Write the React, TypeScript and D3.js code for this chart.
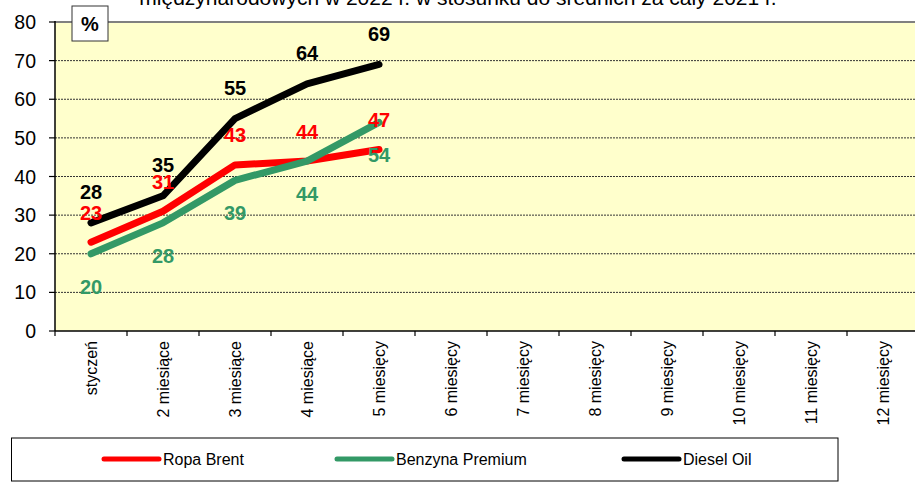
import React from "react";
import * as d3 from "d3";

const categories = ["styczeń", "2 miesiące", "3 miesiące", "4 miesiące", "5 miesięcy", "6 miesięcy", "7 miesięcy", "8 miesięcy", "9 miesięcy", "10 miesięcy", "11 miesięcy", "12 miesięcy"];
const brent = [23, 31, 43, 44, 47];
const benzyna = [20, 28, 39, 44, 54];
const diesel = [28, 35, 55, 64, 69];
const yTicks = [0, 10, 20, 30, 40, 50, 60, 70, 80];
const titleText = "międzynarodowych w 2022 r. w stosunku do średnich za cały 2021 r.";

const series = [
  { name: "Ropa Brent", values: brent, color: "#FF0000", labelDy: -29.5 },
  { name: "Benzyna Premium", values: benzyna, color: "#339966", labelDy: 33 },
  { name: "Diesel Oil", values: diesel, color: "#000000", labelDy: -30.5 },
];

export default function App() {
  const W = 915, H = 493;
  const left = 55, right = 919, top = 22, bottom = 331;
  const x = d3.scaleBand<string>().domain(categories).range([left, right]);
  const y = d3.scaleLinear().domain([0, 80]).range([bottom, top]);
  const cx = (i: number) => (x(categories[i]) as number) + x.bandwidth() / 2;
  const line = d3.line<number>().x((_, i) => cx(i)).y((d) => y(d));
  const font = "Arial, 'Liberation Sans', sans-serif";
  const legendX = [104, 337, 624];

  return (
    <svg width={W} height={H} style={{ position: "absolute", left: 0, top: 0, background: "#fff" }} fontFamily={font}>
      <text x={458} y={5} textAnchor="middle" fontSize={21} fill="#000">{titleText}</text>
      <rect x={left} y={top} width={right - left} height={bottom - top} fill="#FFFFCC" />
      {yTicks.filter((t) => t > 0 && t < 80).map((t) => (
        <line key={t} x1={left} x2={right} y1={y(t)} y2={y(t)} stroke="#333" strokeWidth={1} strokeDasharray="2,1" />
      ))}
      <line x1={left} x2={right} y1={top} y2={top} stroke="#808080" strokeWidth={2} />
      {series.map((s) => (
        <path key={s.name} d={line(s.values) || ""} fill="none" stroke={s.color} strokeWidth={7} strokeLinejoin="round" strokeLinecap="round" />
      ))}
      <line x1={left} x2={left} y1={top - 1} y2={bottom} stroke="#000" strokeWidth={1.5} />
      <line x1={left} x2={right} y1={bottom} y2={bottom} stroke="#000" strokeWidth={1.5} />
      {yTicks.map((t) => (
        <g key={t}>
          <line x1={left - 6} x2={left} y1={y(t)} y2={y(t)} stroke="#000" strokeWidth={1.2} />
          <text x={36} y={y(t)} textAnchor="end" dominantBaseline="central" fontSize={19.5} fill="#000">{t}</text>
        </g>
      ))}
      {categories.map((c, i) => (
        <g key={c}>
          <line x1={x(c) as number} x2={x(c) as number} y1={bottom} y2={bottom + 5} stroke="#000" strokeWidth={1.2} />
          <text transform={`translate(${cx(i) + 6},${341}) rotate(-90)`} textAnchor="end" fontSize={16} fill="#000">{c}</text>
        </g>
      ))}
      {series.map((s) => s.values.map((v, i) => (
        <text key={s.name + i} x={cx(i)} y={y(v) + s.labelDy} textAnchor="middle" dominantBaseline="central" fontSize={20} fontWeight="bold" fill={s.color}>{v}</text>
      )))}
      <rect x={72} y={6} width={36} height={35} fill="#fff" stroke="#333" strokeWidth={1} />
      <text x={90} y={24} textAnchor="middle" dominantBaseline="central" fontSize={20} fontWeight="bold" fill="#000">%</text>
      <rect x={11.5} y={438} width={826.5} height={43} fill="#fff" stroke="#000" strokeWidth={1} />
      {series.map((s, i) => (
        <g key={s.name}>
          <line x1={legendX[i]} x2={legendX[i] + 55} y1={459} y2={459} stroke={s.color} strokeWidth={5} strokeLinecap="round" />
          <text x={legendX[i] + 59} y={459} dominantBaseline="central" fontSize={16} fill="#000">{s.name}</text>
        </g>
      ))}
    </svg>
  );
}
